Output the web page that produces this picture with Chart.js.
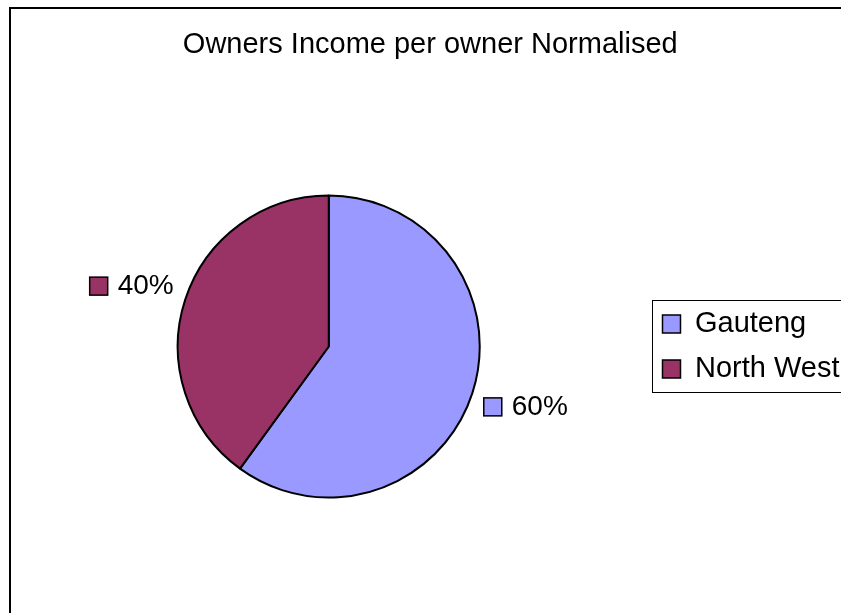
<!DOCTYPE html>
<html>
<head>
<meta charset="utf-8">
<title>Owners Income per owner Normalised</title>
<script src="https://cdn.jsdelivr.net/npm/chart.js@4.4.1/dist/chart.umd.min.js"></script>
<style>
    html, body { margin: 0; padding: 0; background: #fff; overflow: hidden; }
    #wrap { width: 841px; height: 613px; overflow: hidden; position: relative; }
    #income-chart { position: absolute; left: 0; top: 0; }
</style>
</head>
<body>
<div id="wrap">
    <canvas id="income-chart" width="862" height="640"></canvas>
</div>
<script>
const chartTitle = "Owners Income per owner Normalised";
const regions = ["Gauteng", "North West"];
const shares = [60, 40];
const sliceColours = ["#9999FF", "#993366"];

const FONT = '"Liberation Sans", Arial, sans-serif';

// thin frame round the whole chart, runs off the right and bottom edges
const outerFrame = {
    id: "outerFrame",
    beforeDraw(chart) {
        const ctx = chart.ctx;
        ctx.save();
        ctx.strokeStyle = "#000";
        ctx.lineWidth = 2;
        ctx.strokeRect(10, 8, 2000, 2000);
        ctx.restore();
    }
};

// box round the legend entries
const legendFrame = {
    id: "legendFrame",
    afterDraw(chart) {
        const lg = chart.legend;
        const boxes = lg.legendHitBoxes;
        if (!boxes || !boxes.length) return;
        const last = boxes[boxes.length - 1];
        const top = Math.round(boxes[0].top - 9) + 0.5;
        const bottom = Math.round(last.top + last.height + 9) + 0.5;
        const left = Math.round(lg.left + 6) + 0.5;
        const ctx = chart.ctx;
        ctx.save();
        ctx.strokeStyle = "#000";
        ctx.lineWidth = 1;
        ctx.strokeRect(left, top, lg.right - lg.left, bottom - top);
        ctx.restore();
    }
};

// percentage labels with a colour key, set just outside each slice
const pieLabels = {
    id: "pieLabels",
    afterDatasetsDraw(chart) {
        const ctx = chart.ctx;
        const meta = chart.getDatasetMeta(0);
        const values = chart.data.datasets[0].data;
        const colours = chart.data.datasets[0].backgroundColor;
        const total = values.reduce((a, b) => a + b, 0);
        ctx.save();
        ctx.font = "28px " + FONT;
        ctx.textBaseline = "middle";
        ctx.textAlign = "left";
        meta.data.forEach((arc, i) => {
            const p = arc.getProps(["x", "y", "startAngle", "endAngle", "outerRadius"], true);
            const mid = (p.startAngle + p.endAngle) / 2;
            const r = p.outerRadius + 12;
            const ax = p.x + Math.cos(mid) * r;
            const ay = p.y + Math.sin(mid) * r;
            const text = Math.round(values[i] / total * 100) + "%";
            const groupW = 28 + ctx.measureText(text).width;
            const left = Math.cos(mid) >= 0 ? ax : ax - groupW;
            const cy = Math.sin(mid) >= 0 ? ay + 10 : ay - 10;

            ctx.fillStyle = colours[i];
            ctx.fillRect(left, cy - 9, 18, 18);
            ctx.strokeStyle = "#000";
            ctx.lineWidth = 1.5;
            ctx.strokeRect(left, cy - 9, 18, 18);

            ctx.fillStyle = "#000";
            ctx.fillText(text, left + 28, cy);
        });
        ctx.restore();
    }
};

const ctx = document.getElementById("income-chart").getContext("2d");
const defaultLabels = Chart.overrides.pie.plugins.legend.labels.generateLabels;

new Chart(ctx, {
    type: "pie",
    data: {
        labels: regions,
        datasets: [{
            data: shares,
            backgroundColor: sliceColours,
            borderColor: "#000",
            borderWidth: 2,
            radius: 151
        }]
    },
    options: {
        responsive: false,
        animation: false,
        devicePixelRatio: 1,
        layout: {
            padding: { left: 11, right: 12.5, top: 0, bottom: 9.3 }
        },
        plugins: {
            tooltip: { enabled: false },
            title: {
                display: true,
                text: chartTitle,
                color: "#000",
                font: { family: FONT, size: 29, weight: "normal", lineHeight: 1.2 },
                padding: { top: 27.5, bottom: 0 }
            },
            legend: {
                position: "right",
                fullSize: false,
                labels: {
                    color: "#000",
                    font: { family: FONT, size: 29 },
                    boxWidth: 18,
                    boxHeight: 18,
                    padding: 16,
                    generateLabels(chart) {
                        return defaultLabels(chart).map(item => {
                            item.lineWidth = 1.5;
                            return item;
                        });
                    }
                }
            }
        }
    },
    plugins: [outerFrame, legendFrame, pieLabels]
});
</script>
</body>
</html>
